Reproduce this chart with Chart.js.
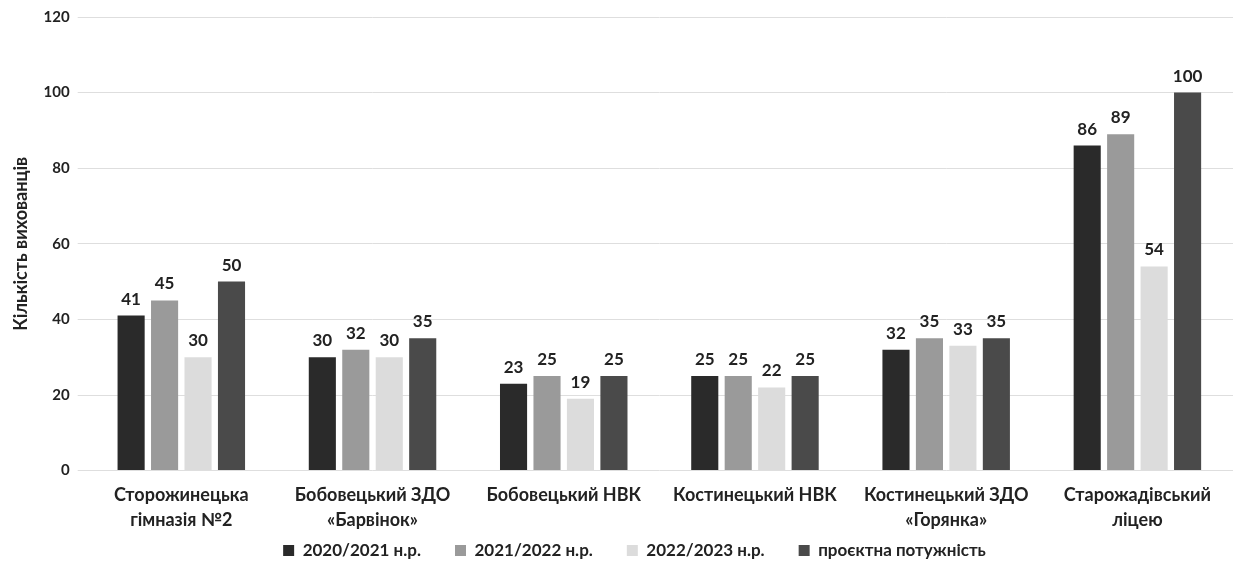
<!DOCTYPE html>
<html>
<head>
<meta charset="utf-8">
<script src="https://cdn.jsdelivr.net/npm/chart.js@4"></script>
<style>
  body { margin: 0; background: #fff; }
  #wrap { width: 1233px; height: 566px; }
</style>
</head>
<body>
<div id="wrap"><canvas id="kidsChart"></canvas></div>
<script>
// Заклади (категорії)
const schools = [
    ['Сторожинецька', 'гімназія №2'],
    ['Бобовецький ЗДО', '«Барвінок»'],
    'Бобовецький НВК',
    'Костинецький НВК',
    ['Костинецький ЗДО', '«Горянка»'],
    ['Старожадівський', 'ліцею']
];
const y2020 = [41, 30, 23, 25, 32, 86];
const y2021 = [45, 32, 25, 25, 35, 89];
const y2022 = [30, 30, 19, 22, 33, 54];
const capacity = [50, 35, 25, 25, 35, 100];

// підписи значень над стовпчиками
const valueLabels = {
    id: 'valueLabels',
    afterDatasetsDraw(chart) {
        const c = chart.ctx;
        c.save();
        c.font = 'bold 17px Lato';
        c.fillStyle = '#222';
        c.textAlign = 'center';
        c.textBaseline = 'bottom';
        chart.data.datasets.forEach((ds, i) => {
            chart.getDatasetMeta(i).data.forEach((bar, j) => {
                c.fillText(ds.data[j], bar.x, bar.y - 8);
            });
        });
        c.restore();
    }
};

// легенда: вужча смуга в розмітці, але малюємо її трохи вище і правіше
const legendShift = {
    id: 'legendShift',
    afterLayout(chart) {
        const lg = chart.legend;
        lg.top = lg.bottom - 58;
        lg.left += 15; lg.right += 15;
    }
};

const ctx = document.getElementById('kidsChart').getContext('2d');
new Chart(ctx, {
    type: 'bar',
    data: {
        labels: schools,
        datasets: [
            { label: '2020/2021 н.р.', data: y2020, backgroundColor: '#2a2a2a' },
            { label: '2021/2022 н.р.', data: y2021, backgroundColor: '#9a9a9a' },
            { label: '2022/2023 н.р.', data: y2022, backgroundColor: '#dcdcdc' },
            { label: 'проєктна потужність', data: capacity, backgroundColor: '#4a4a4a' }
        ]
    },
    options: {
        responsive: true,
        maintainAspectRatio: false,
        animation: false,
        layout: { padding: { top: 3, right: 0, left: 6, bottom: 0 } },
        datasets: { bar: { categoryPercentage: 0.7, barPercentage: 0.81 } },
        plugins: {
            legend: {
                position: 'bottom',
                maxHeight: 29,
                labels: {
                    boxWidth: 11, boxHeight: 11, padding: 34,
                    color: '#222',
                    font: { family: 'Lato', size: 17, weight: 'bold' }
                }
            },
            tooltip: { enabled: false }
        },
        scales: {
            x: {
                grid: { display: false },
                border: { display: false },
                ticks: { color: '#222', padding: 4, font: { family: 'Lato', size: 18, weight: 'bold', lineHeight: 1.4 } }
            },
            y: {
                min: 0, max: 120,
                ticks: { stepSize: 20, color: '#222', padding: 8, font: { family: 'Lato', size: 15, weight: 'bold' } },
                grid: { color: '#dedede' },
                border: { display: false },
                title: {
                    display: true,
                    text: 'Кількість вихованців',
                    color: '#222',
                    font: { family: 'Lato', size: 18, weight: 'bold' }
                }
            }
        }
    },
    plugins: [valueLabels, legendShift]
});
</script>
</body>
</html>
